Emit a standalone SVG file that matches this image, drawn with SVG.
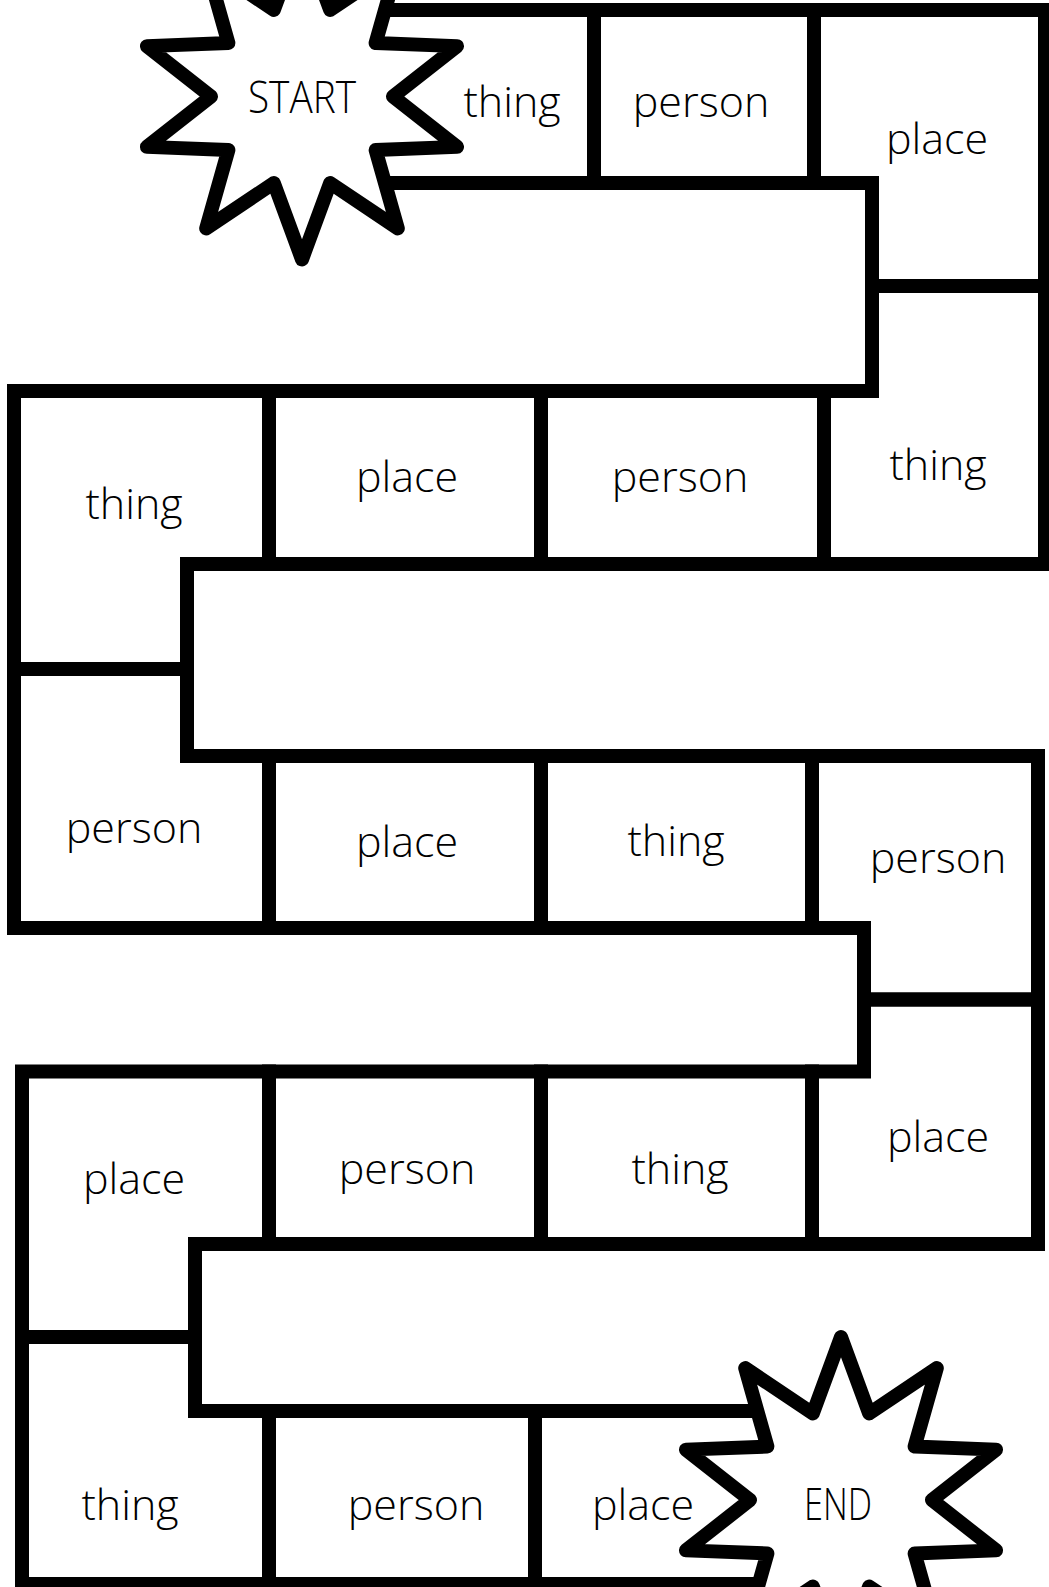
<svg xmlns="http://www.w3.org/2000/svg" width="1049" height="1587" viewBox="0 0 1049 1587">
<style>
.cell{fill:none;stroke:#000;stroke-width:14;stroke-linejoin:miter}
.lbl{font-family:"Open Sans","Liberation Sans",sans-serif;font-weight:360;font-size:43px;fill:#000;text-anchor:middle}
.star{fill:#fff;stroke:#000;stroke-width:14;stroke-linejoin:round}
.slbl{font-family:"Open Sans","Liberation Sans",sans-serif;font-weight:360;font-size:45px;fill:#000;text-anchor:middle}
</style>
<rect x="0" y="0" width="1049" height="1587" fill="#fff"/>
<g id="connectors"></g>
<g id="cell-r1-thing"><path class="cell" d="M300,10 H594 V183 H300 Z"/><text class="lbl" x="512" y="117">thing</text></g>
<g id="cell-r1-person"><path class="cell" d="M594,10 H814 V183 H594 Z"/><text class="lbl" x="701" y="117">person</text></g>
<g id="cell-r1-place"><path class="cell" d="M814,10 H1045 V286 H872 V183 H814 Z"/><text class="lbl" x="937" y="154">place</text></g>
<g id="cell-r2-thing-right"><path class="cell" d="M872,286 H1045 V564 H824 V391 H872 Z"/><text class="lbl" x="938" y="480">thing</text></g>
<g id="cell-r2-person"><path class="cell" d="M541,391 H824 V564 H541 Z"/><text class="lbl" x="680" y="492">person</text></g>
<g id="cell-r2-place"><path class="cell" d="M269,391 H541 V564 H269 Z"/><text class="lbl" x="407" y="492">place</text></g>
<g id="cell-r2-thing-left"><path class="cell" d="M14,391 H269 V564 H187 V669 H14 Z"/><text class="lbl" x="134" y="519">thing</text></g>
<g id="cell-r3-person-left"><path class="cell" d="M14,669 H187 V756 H269 V928 H14 Z"/><text class="lbl" x="134" y="843">person</text></g>
<g id="cell-r3-place"><path class="cell" d="M269,756 H541 V928 H269 Z"/><text class="lbl" x="407" y="857">place</text></g>
<g id="cell-r3-thing"><path class="cell" d="M541,756 H812 V928 H541 Z"/><text class="lbl" x="676" y="856">thing</text></g>
<g id="cell-r3-person-right"><path class="cell" d="M812,756 H1038 V999.5 H864 V928 H812 Z"/><text class="lbl" x="938" y="873">person</text></g>
<g id="cell-r4-place-right"><path class="cell" d="M864,999.5 H1038 V1244 H812 V1071.5 H864 Z"/><text class="lbl" x="938" y="1152">place</text></g>
<g id="cell-r4-thing"><path class="cell" d="M541,1071.5 H812 V1244 H541 Z"/><text class="lbl" x="680" y="1184">thing</text></g>
<g id="cell-r4-person"><path class="cell" d="M269,1071.5 H541 V1244 H269 Z"/><text class="lbl" x="407" y="1184">person</text></g>
<g id="cell-r4-place-left"><path class="cell" d="M22,1071.5 H269 V1244 H195 V1337 H22 Z"/><text class="lbl" x="134" y="1194">place</text></g>
<g id="cell-r5-thing"><path class="cell" d="M22,1337 H195 V1411 H269 V1584 H22 Z"/><text class="lbl" x="130" y="1520">thing</text></g>
<g id="cell-r5-person"><path class="cell" d="M269,1411 H535 V1584 H269 Z"/><text class="lbl" x="416" y="1520">person</text></g>
<g id="cell-r5-place"><path class="cell" d="M535,1411 H800 V1584 H535 Z"/><text class="lbl" x="643" y="1520">place</text></g>
<g id="start"><path class="star" d="M302,-66.5 L330.12,9.95 L397.81,-35.37 L375.62,43.01 L457.02,46.13 L393,96.5 L457.02,146.87 L375.62,149.99 L397.81,228.37 L330.12,183.05 L302,259.5 L273.88,183.05 L206.19,228.37 L228.38,149.99 L146.98,146.87 L211,96.5 L146.98,46.13 L228.38,43.01 L206.19,-35.37 L273.88,9.95 Z"/><text class="slbl" x="302" y="113" textLength="108" lengthAdjust="spacingAndGlyphs">START</text></g>
<g id="end"><path class="star" d="M841,1337 L869.12,1413.45 L936.81,1368.13 L914.62,1446.51 L996.02,1449.63 L932,1500 L996.02,1550.37 L914.62,1553.49 L936.81,1631.87 L869.12,1586.55 L841,1663 L812.88,1586.55 L745.19,1631.87 L767.38,1553.49 L685.98,1550.37 L750,1500 L685.98,1449.63 L767.38,1446.51 L745.19,1368.13 L812.88,1413.45 Z"/><text class="slbl" x="838" y="1520" textLength="68" lengthAdjust="spacingAndGlyphs">END</text></g>
</svg>
